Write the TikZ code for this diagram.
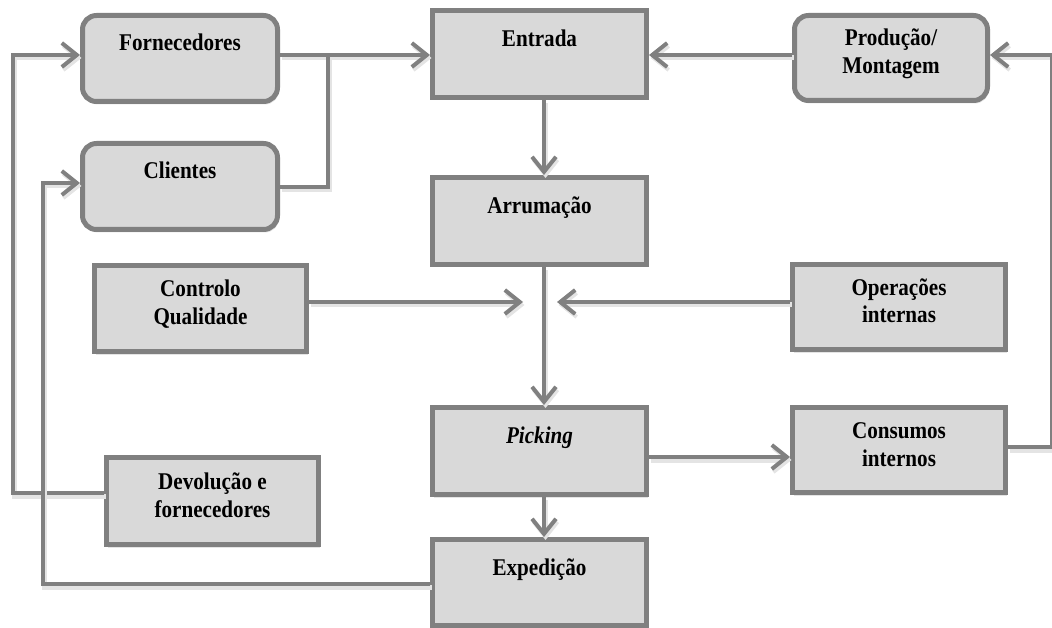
\documentclass[tikz,border=0pt]{standalone}
\usepackage{fontspec}
\setmainfont{Liberation Serif}[FakeStretch=0.88]
\usetikzlibrary{arrows.meta,shadows}
\definecolor{edgegray}{HTML}{808080}
\definecolor{boxgray}{HTML}{D9D9D9}
\definecolor{shadegray}{HTML}{E4E4E4}
% one-line label sits near the top; two-line label fills the box
\newcommand\boxtextA[1]{\rule{0pt}{18pt}#1\rule[-33pt]{0pt}{33pt}}
\newcommand\boxtextB[2]{\rule{0pt}{18pt}#1\\#2\rule[-14pt]{0pt}{14pt}}
\tikzset{
  box/.style={draw=edgegray, fill=boxgray, line width=5pt, inner sep=0pt,
    align=center, font=\bfseries\fontsize{24}{28}\selectfont,
    drop shadow={shadow xshift=1.5pt, shadow yshift=-3pt, fill=shadegray, opacity=1}},
  rbox/.style={box, rounded corners=14pt},
  conn/.style={draw=edgegray, line width=4pt,
    preaction={draw=shadegray, line width=5pt, transform canvas={xshift=1.5pt, yshift=-3pt}}},
  arr/.style={conn, -{Straight Barb[length=15pt,width=24pt,line width=4pt]}},
}
\begin{document}
\begin{tikzpicture}[x=1pt,y=-1pt]
\useasboundingbox (0,0) rectangle (1052,628);

% bend points and free ends
\coordinate (jn) at (328,55);
\coordinate (mx) at (544,0);
\coordinate (qin) at (523,302);
\coordinate (oin) at (557,302);
\coordinate (rx) at (1052,0);

% boxes
\node[rbox, minimum width=195pt, minimum height=86pt] (forn) at (180,58.5) {\boxtextA{Fornecedores}};
\node[rbox, minimum width=195pt, minimum height=86pt] (cli) at (180,186.5) {\boxtextA{Clientes}};
\node[box, minimum width=214pt, minimum height=87pt] (entr) at (539.5,54) {\boxtextA{Entrada}};
\node[rbox, minimum width=193pt, minimum height=85pt] (prod) at (891,58) {\boxtextB{Produção/}{Montagem}};
\node[box, minimum width=214pt, minimum height=87pt] (arru) at (539.5,221) {\boxtextA{Arrumação}};
\node[box, minimum width=212pt, minimum height=86pt] (ctrl) at (200.5,308.5) {\boxtextB{Controlo}{Qualidade}};
\node[box, minimum width=213pt, minimum height=85pt] (oper) at (899,307) {\boxtextB{Operações}{internas}};
\node[box, minimum width=214pt, minimum height=87pt] (pick) at (539.5,451) {\boxtextA{\textit{Picking}}};
\node[box, minimum width=213pt, minimum height=85pt] (cons) at (899,450) {\boxtextB{Consumos}{internos}};
\node[box, minimum width=212pt, minimum height=87pt] (devo) at (212.5,501) {\boxtextB{Devolução e}{fornecedores}};
\node[box, minimum width=214pt, minimum height=86pt] (expe) at (539.5,582.5) {\boxtextA{Expedição}};

% connectors
\draw[arr] (forn.east |- jn) -- (entr.west |- jn);
\draw[conn] (cli.east |- 0,187) -| (jn);
\draw[arr] (prod.west |- jn) -- (entr.east |- jn);
\draw[arr] (cons.east |- 0,447) -| (rx |- 0,55) -- (prod.east |- 0,55);
\draw[arr] (entr.south -| mx) -- (arru.north -| mx);
\draw[arr] (arru.south -| mx) -- (pick.north -| mx);
\draw[arr] (ctrl.east |- qin) -- (qin);
\draw[arr] (oper.west |- oin) -- (oin);
\draw[arr] (pick.east |- 0,457) -- (cons.west |- 0,457);
\draw[arr] (pick.south -| mx) -- (expe.north -| mx);
\draw[arr] (devo.west |- 0,493) -| (13,120) |- (forn.west |- 0,55);
\draw[arr] (expe.west |- 0,584) -| (43,250) |- (cli.west |- 0,183);
\end{tikzpicture}
\end{document}
